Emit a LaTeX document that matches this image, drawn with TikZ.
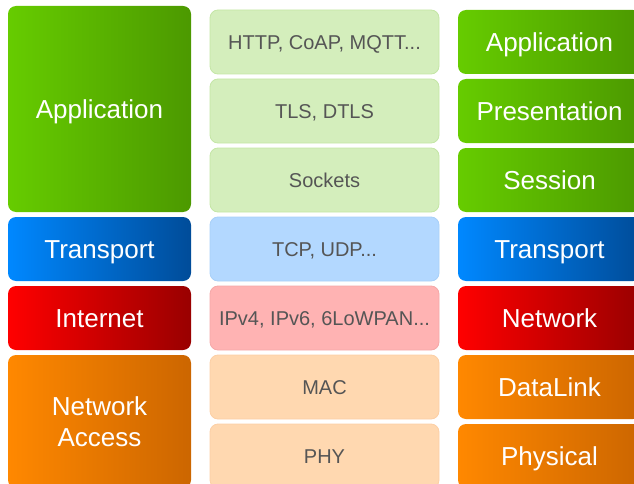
\documentclass[tikz,border=0pt]{standalone}
\usepackage{fontspec}
\setmainfont{Liberation Sans}

\definecolor{greenL}{HTML}{66CC00}
\definecolor{greenR}{HTML}{4C9900}
\definecolor{blueL}{HTML}{0088FF}
\definecolor{blueR}{HTML}{004C99}
\definecolor{redL}{HTML}{FF0000}
\definecolor{redR}{HTML}{990000}
\definecolor{orangeL}{HTML}{FF8800}
\definecolor{orangeR}{HTML}{CC6600}
\definecolor{txtgray}{HTML}{555555}

\tikzset{
  layer/.style = {rounded corners=8pt, minimum width=183pt, minimum height=64pt,
    inner sep=0pt, outer sep=0pt, text=white, align=center,
    font=\fontsize{26}{31}\selectfont, text height=18.7pt, text depth=0pt},
  proto/.style = {rounded corners=8pt, minimum width=229pt, minimum height=64pt,
    inner sep=0pt, outer sep=0pt, text=txtgray, line width=0.8pt,
    font=\fontsize{20}{24}\selectfont, text height=14.3pt, text depth=0pt},
  appbox/.style = {layer, left color=greenL, right color=greenR},
  transbox/.style = {layer, left color=blueL, right color=blueR},
  netbox/.style = {layer, left color=redL, right color=redR},
  linkbox/.style = {layer, left color=orangeL, right color=orangeR},
  appproto/.style = {proto, fill={rgb,255:red,212;green,238;blue,188}, draw={rgb,255:red,196;green,230;blue,165}},
  transproto/.style = {proto, fill={rgb,255:red,179;green,216;blue,255}, draw={rgb,255:red,168;green,208;blue,248}},
  netproto/.style = {proto, fill={rgb,255:red,255;green,179;blue,179}, draw={rgb,255:red,245;green,168;blue,168}},
  linkproto/.style = {proto, fill={rgb,255:red,255;green,216;blue,176}, draw={rgb,255:red,252;green,207;blue,165}}
}

\begin{document}
\begin{tikzpicture}[x=1pt, y=-1pt]
  \clip (0, 0) rectangle (634, 484);

  \node[appbox, minimum height=206pt] (l1) at (99.5, 109) {Application};
  \node[transbox] (l2) at (99.5, 249) {Transport};
  \node[netbox] (l3) at (99.5, 318) {Internet};
  \node[linkbox, minimum height=133pt, text height=49.7pt] (l4) at (99.5, 421.5) {Network\\Access};

  \node[appproto] (m1) at (324.5, 42) {HTTP, CoAP, MQTT...};
  \node[appproto] (m2) at (324.5, 111) {TLS, DTLS};
  \node[appproto] (m3) at (324.5, 180) {Sockets};
  \node[transproto] (m4) at (324.5, 249) {TCP, UDP...};
  \node[netproto] (m5) at (324.5, 318) {IPv4, IPv6, 6LoWPAN...};
  \node[linkproto] (m6) at (324.5, 387) {MAC};
  \node[linkproto] (m7) at (324.5, 456) {PHY};

  \node[appbox] (r1) at (549.5, 42) {Application};
  \node[appbox] (r2) at (549.5, 111) {Presentation};
  \node[appbox] (r3) at (549.5, 180) {Session};
  \node[transbox] (r4) at (549.5, 249) {Transport};
  \node[netbox] (r5) at (549.5, 318) {Network};
  \node[linkbox] (r6) at (549.5, 387) {DataLink};
  \node[linkbox] (r7) at (549.5, 456) {Physical};
\end{tikzpicture}
\end{document}
